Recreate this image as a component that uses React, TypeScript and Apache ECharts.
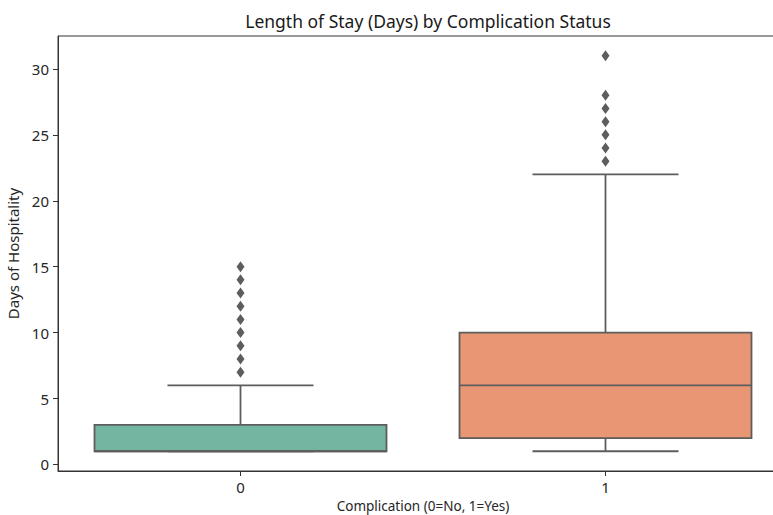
import React, { useEffect, useRef } from "react";
import * as echarts from "echarts";

const categories = ["0", "1"];
// [min whisker, Q1, median, Q3, max whisker]
const boxStats = [
  [1, 1, 1, 3, 6],
  [1, 2, 6, 10, 22],
];
const outliers0 = [7, 8, 9, 10, 11, 12, 13, 14, 15];
const outliers1 = [23, 24, 25, 26, 27, 28, 31];
const yTicks = [0, 5, 10, 15, 20, 25, 30];
const boxColors = ["#72b6a1", "#e99675"];

const FONT = "'Noto Sans', sans-serif";
const LINE = "#5d5d5d";

export default function App() {
  const ref = useRef<HTMLDivElement>(null);
  useEffect(() => {
    if (!ref.current) return;
    const chart = echarts.init(ref.current, undefined, { renderer: "svg" });
    const boxData = boxStats.map((s, i) => [i, ...s]);
    const outlierData = [
      ...outliers0.map((v) => [0, v]),
      ...outliers1.map((v) => [1, v]),
    ];
    chart.setOption({
      animation: false,
      backgroundColor: "#ffffff",
      textStyle: { fontFamily: FONT },
      title: {
        text: "Length of Stay (Days) by Complication Status",
        left: 423,
        textAlign: "center",
        top: 7,
        textStyle: { fontFamily: FONT, fontSize: 17.5, fontWeight: "normal", color: "#1a1a1a" },
      },
      grid: {
        left: 58,
        top: 36,
        width: 730,
        bottom: 44,
        outerBoundsMode: "none",
        containLabel: false,
        show: true,
        borderColor: "#333333",
        borderWidth: 1,
        backgroundColor: "transparent",
      },
      xAxis: {
        type: "category",
        data: categories,
        boundaryGap: true,
        name: "Complication (0=No, 1=Yes)",
        nameLocation: "middle",
        nameGap: 26,
        nameTextStyle: { fontFamily: FONT, fontSize: 13.5, color: "#262626" },
        axisLine: { show: true, onZero: false, lineStyle: { color: "#333333", width: 1 } },
        axisTick: { show: true, alignWithLabel: true, length: 5, lineStyle: { color: "#333333" } },
        axisLabel: { fontFamily: FONT, fontSize: 15, color: "#262626", margin: 8 },
        splitLine: { show: false },
      },
      yAxis: {
        type: "value",
        min: -0.5,
        max: 32.5,
        name: "Days of Hospitality",
        nameLocation: "middle",
        nameGap: 30,
        nameTextStyle: { fontFamily: FONT, fontSize: 15, color: "#262626" },
        axisLine: { show: true, onZero: false, lineStyle: { color: "#333333", width: 1 } },
        axisTick: { show: true, length: 5, customValues: yTicks, lineStyle: { color: "#333333" } },
        axisLabel: { fontFamily: FONT, fontSize: 15, color: "#262626", margin: 9, customValues: yTicks },
        splitLine: { show: false },
      },
      series: [
        {
          type: "custom",
          data: boxData,
          encode: { x: 0, y: [1, 2, 3, 4, 5] },
          renderItem: (params: any, api: any) => {
            const idx = api.value(0);
            const vals = [1, 2, 3, 4, 5].map((d) => api.value(d));
            const cx = api.coord([idx, vals[2]])[0];
            const band = api.size([1, 0])[0];
            const bw = band * 0.8;
            const cap = bw / 2;
            const y = vals.map((v) => api.coord([idx, v])[1]);
            const ls = { stroke: LINE, lineWidth: 1.8 };
            return {
              type: "group",
              children: [
                { type: "line", shape: { x1: cx, y1: y[3], x2: cx, y2: y[4] }, style: ls },
                { type: "line", shape: { x1: cx, y1: y[1], x2: cx, y2: y[0] }, style: ls },
                { type: "line", shape: { x1: cx - cap / 2, y1: y[4], x2: cx + cap / 2, y2: y[4] }, style: ls },
                { type: "line", shape: { x1: cx - cap / 2, y1: y[0], x2: cx + cap / 2, y2: y[0] }, style: ls },
                {
                  type: "rect",
                  shape: { x: cx - bw / 2, y: y[3], width: bw, height: y[1] - y[3] },
                  style: { fill: boxColors[idx], stroke: LINE, lineWidth: 1.8 },
                },
                { type: "line", shape: { x1: cx - bw / 2, y1: y[2], x2: cx + bw / 2, y2: y[2] }, style: ls },
              ],
            };
          },
          z: 2,
        },
        {
          type: "scatter",
          data: outlierData,
          symbol: "diamond",
          symbolSize: [8, 11],
          itemStyle: { color: LINE, opacity: 1 },
          z: 3,
        },
      ],
    });
    return () => chart.dispose();
  }, []);
  return (
    <div style={{ position: "absolute", left: 0, top: 0, width: 773, height: 515, overflow: "hidden" }}>
      <div ref={ref} style={{ width: 800, height: 515 }} />
    </div>
  );
}
